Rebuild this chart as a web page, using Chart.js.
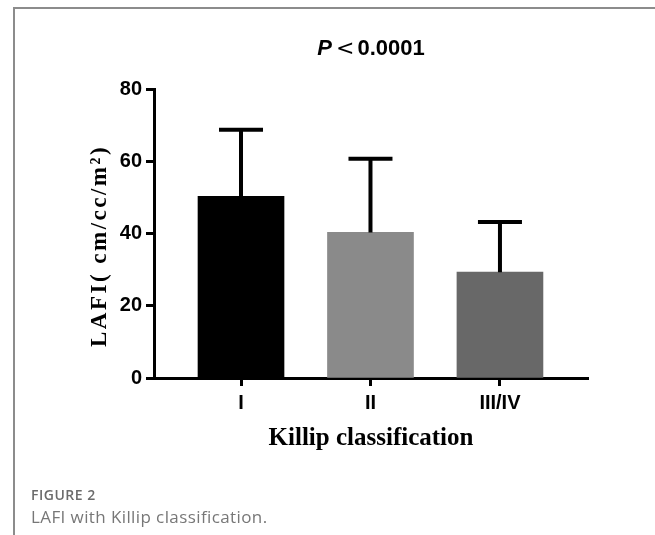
<!DOCTYPE html>
<html>
<head>
<meta charset="utf-8">
<script src="https://cdn.jsdelivr.net/npm/chart.js@4.4.1/dist/chart.umd.min.js"></script>
<style>
  html, body { margin: 0; padding: 0; background: #fff; }
  #wrap { position: relative; width: 655px; height: 535px; overflow: hidden; }
  #frame { position: absolute; left: 13px; top: 7px; width: 700px; height: 600px;
           border-left: 2px solid #8c8c8c; border-top: 2px solid #8c8c8c; }
  #chart { position: absolute; left: 0; top: 0; }
  .cap { position: absolute; left: 31px; font-family: "Open Sans", sans-serif; white-space: nowrap; }
  #figNo { top: 488px; font-size: 14px; line-height: 14px; font-weight: 600; color: #6b6b6b; letter-spacing: 0.5px; }
  #figText { top: 508px; font-size: 17px; line-height: 17px; color: #777; letter-spacing: 0.4px; }
</style>
</head>
<body>
<div id="wrap">
  <div id="frame"></div>
  <canvas id="chart" width="655" height="535"></canvas>
  <div class="cap" id="figNo">FIGURE 2</div>
  <div class="cap" id="figText">LAFI with Killip classification.</div>
</div>
<script>
const categories = ['I', 'II', 'III/IV'];
const means = [50.3, 40.3, 29.3];
const sds = [18.4, 20.4, 13.9];
const barColors = ['#000000', '#8a8a8a', '#686868'];
const yTicks = [0, 20, 40, 60, 80];
const yTitle = 'LAFI( cm/cc/m\u00B2)';

const sansBold = { family: '"Liberation Sans", Arial, sans-serif', size: 20, weight: 'bold' };

// draws the "P < 0.0001" title, with italic P
const titlePlugin = {
    id: 'pTitle',
    afterDraw(chart) {
        const ctx = chart.ctx;
        ctx.save();
        ctx.fillStyle = '#000';
        ctx.textBaseline = 'alphabetic';
        const italic = 'italic bold 22px "Liberation Sans", Arial, sans-serif';
        const thin = '22px "DejaVu Sans", sans-serif';
        const bold = 'bold 22px "Liberation Sans", Arial, sans-serif';
        const parts = [['P', italic, 4], ['<', thin, 3], ['0.0001', bold, 0]];
        let total = 0;
        parts.forEach(p => { ctx.font = p[1]; total += ctx.measureText(p[0]).width + p[2]; });
        let x = (chart.chartArea.left + chart.chartArea.right) / 2 - total / 2;
        parts.forEach(p => {
            ctx.font = p[1];
            ctx.fillText(p[0], x, 55);
            x += ctx.measureText(p[0]).width + p[2];
        });
        ctx.restore();
    }
};

// y axis title, drawn by hand so it can be letter-spaced like the original
const yTitlePlugin = {
    id: 'yTitle',
    afterDraw(chart) {
        const ctx = chart.ctx;
        ctx.save();
        ctx.translate(100, 246);
        ctx.rotate(-Math.PI / 2);
        ctx.font = 'bold 23px "Liberation Serif", "Times New Roman", serif';
        ctx.letterSpacing = '2.5px';
        ctx.fillStyle = '#000';
        ctx.textAlign = 'center';
        ctx.textBaseline = 'middle';
        ctx.fillText(yTitle, 0, 0);
        ctx.restore();
    }
};

// upward-only SD bars with a cap
const errorBarPlugin = {
    id: 'errorBars',
    afterDatasetsDraw(chart) {
        const ctx = chart.ctx;
        const yScale = chart.scales.y;
        const meta = chart.getDatasetMeta(0);
        ctx.save();
        ctx.strokeStyle = '#000';
        ctx.lineWidth = 4;
        ctx.lineCap = 'butt';
        meta.data.forEach((bar, i) => {
            const yMean = yScale.getPixelForValue(means[i]);
            const yTop = yScale.getPixelForValue(means[i] + sds[i]);
            ctx.beginPath();
            ctx.moveTo(bar.x, yMean);
            ctx.lineTo(bar.x, yTop);
            ctx.moveTo(bar.x - 22, yTop);
            ctx.lineTo(bar.x + 22, yTop);
            ctx.stroke();
        });
        ctx.restore();
    }
};

new Chart(document.getElementById('chart'), {
    type: 'bar',
    data: {
        datasets: [{
            data: means.map((m, i) => ({ x: i, y: m })),
            backgroundColor: barColors,
            borderWidth: 0,
            barThickness: 86
        }]
    },
    options: {
        responsive: false,
        animation: false,
        layout: { padding: { left: 0, top: 89, right: 67, bottom: 0 } },
        plugins: {
            legend: { display: false },
            tooltip: { enabled: false }
        },
        scales: {
            x: {
                type: 'linear',
                offset: false,
                min: -0.672,
                max: 2.68,
                afterFit: scale => { scale.height = 157; },
                afterBuildTicks: scale => { scale.ticks = categories.map((c, i) => ({ value: i })); },
                ticks: {
                    callback: value => categories[value],
                    color: '#000',
                    font: sansBold,
                    padding: 5,
                    maxRotation: 0
                },
                grid: { offset: false, drawOnChartArea: false, drawTicks: true, tickLength: 8, tickWidth: 3, tickColor: '#000' },
                border: { display: true, width: 3, color: '#000' },
                title: {
                    display: true,
                    text: 'Killip classification',
                    color: '#000',
                    font: { family: '"Liberation Serif", "Times New Roman", serif', size: 25, weight: 'bold' },
                    padding: { top: 0, bottom: 81 }
                }
            },
            y: {
                min: 0,
                max: 80,
                afterFit: scale => { scale.width = 154; },
                afterBuildTicks: scale => { scale.ticks = yTicks.map(v => ({ value: v })); },
                ticks: { color: '#000', font: sansBold, padding: 4 },
                grid: { drawOnChartArea: false, drawTicks: true, tickLength: 8, tickWidth: 3, tickColor: '#000' },
                border: { display: true, width: 3, color: '#000' }
            }
        }
    },
    plugins: [errorBarPlugin, titlePlugin, yTitlePlugin]
});
</script>
</body>
</html>
